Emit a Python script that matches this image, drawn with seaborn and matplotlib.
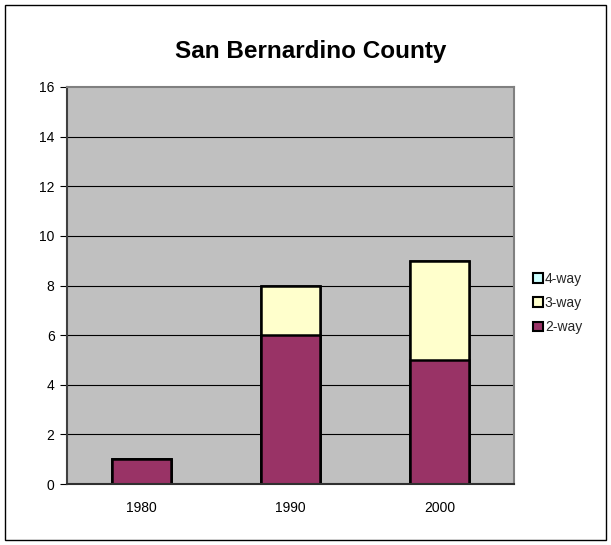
import matplotlib
matplotlib.use("Agg")
import matplotlib.pyplot as plt
import matplotlib.patches as mpatches
import seaborn as sns
import pandas as pd
import numpy as np

years = ["1980", "1990", "2000"]
two_way = [1, 6, 5]
three_way = [0, 2, 4]
four_way = [0, 0, 0]
colors = {"2-way": "#993366", "3-way": "#FFFFCC", "4-way": "#CCFFFF"}
y_ticks = [0, 2, 4, 6, 8, 10, 12, 14, 16]

sns.set_theme(style="white")
plt.rcParams['font.family'] = ['Liberation Sans', 'DejaVu Sans']

W, H = 611, 545
fig = plt.figure(figsize=(W / 100, H / 100), dpi=100)
fig.patch.set_facecolor("white")

# outer frame
fig.add_artist(plt.Rectangle((5 / W, 1 - 540 / H), 601 / W, 535 / H,
                             transform=fig.transFigure, fill=False,
                             edgecolor="black", linewidth=1.0))

left, right, top, bottom = 67, 514, 87, 484
ax = fig.add_axes([left / W, 1 - bottom / H, (right - left) / W, (bottom - top) / H])
ax.set_facecolor("#C0C0C0")

c2 = np.array(two_way)
c3 = c2 + np.array(three_way)
c4 = c3 + np.array(four_way)
layers = [("4-way", c4), ("3-way", c3), ("2-way", c2)]
for name, vals in layers:
    df = pd.DataFrame({"year": years, "value": vals})
    sns.barplot(data=df, x="year", y="value", color=colors[name], saturation=1,
                width=0.4, edgecolor="black", linewidth=1.8, ax=ax, zorder=3)

ax.set_ylim(0, 16)
ax.set_xlim(-0.5, 2.5)
ax.set_yticks(y_ticks)
ax.set_yticklabels([str(t) for t in y_ticks], fontsize=10)
for t in y_ticks[1:-1]:
    ax.axhline(t, color="black", linewidth=0.8, zorder=1)
ax.set_xlabel("")
ax.set_ylabel("")
ax.tick_params(axis="x", which="major", length=0, labelsize=10, pad=12)
ax.set_xticks([0.5, 1.5], minor=True)
ax.tick_params(axis="x", which="minor", length=5, width=0.8, color="black", direction="out")
ax.tick_params(axis="y", length=5, width=0.8, color="black", direction="out", pad=4, left=True)
for lab in ax.get_xticklabels() + ax.get_yticklabels():
    lab.set_color("black")

ax.spines["left"].set_color("#404040")
ax.spines["left"].set_linewidth(1.5)
ax.spines["bottom"].set_color("#303030")
ax.spines["bottom"].set_linewidth(1.5)
ax.spines["top"].set_color("#808080")
ax.spines["top"].set_linewidth(1.5)
ax.spines["right"].set_color("#808080")
ax.spines["right"].set_linewidth(1.5)
for s in ax.spines.values():
    s.set_visible(True)
    s.set_zorder(4)

fig.text(311 / W, 1 - 58 / H, "San Bernardino County",
         ha="center", va="baseline", fontsize=17.5, fontweight="bold", color="black")

handles = [mpatches.Patch(facecolor=colors[n], edgecolor="black", linewidth=1.5, label=n)
           for n in ["4-way", "3-way", "2-way"]]
leg = fig.legend(handles=handles, loc="center left",
                 bbox_to_anchor=(526 / W, 1 - 303 / H), frameon=False,
                 fontsize=10, handlelength=0.7, handleheight=0.7,
                 handletextpad=0.15, labelspacing=0.75, borderpad=0)

fig.savefig("out.png", dpi=100)
